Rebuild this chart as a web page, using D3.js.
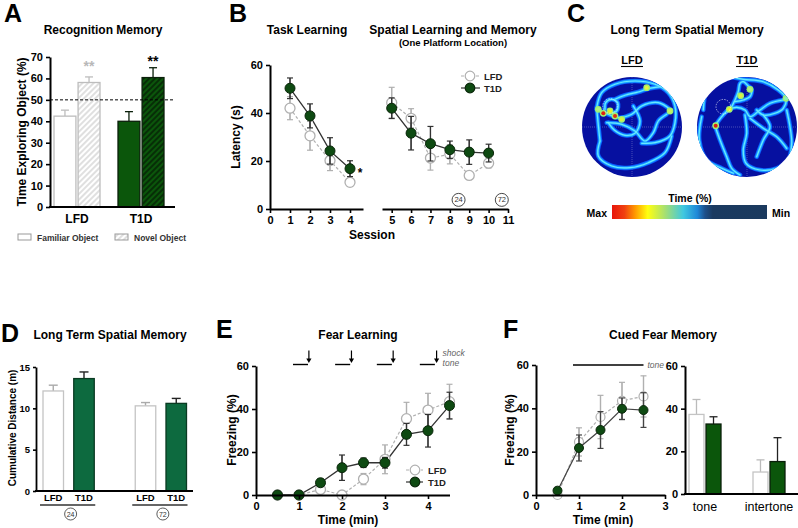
<!DOCTYPE html>
<html><head><meta charset="utf-8">
<script src="https://cdn.jsdelivr.net/npm/d3@7"></script>
<style>
body{margin:0;background:#fff;}
svg{display:block;font-family:"Liberation Sans",Arial,sans-serif;}
</style></head><body>
<svg id="c" width="798" height="528"></svg>
<script>
// ---------------- DATA ----------------
// Panel A: Recognition memory
const aGroups = ["LFD", "T1D"];
const aObjects = ["Familiar Object", "Novel Object"];
const aMeans = [[42.4, 58.1], [40.0, 60.4]];
const aErrs = [[2.8, 2.6], [4.5, 4.6]];
const aTicks = [0, 10, 20, 30, 40, 50, 60, 70];
const aChance = 50;
const aStarVals = [67, 69.5];

// Panel B: Water maze latency
const bSessions = [1, 2, 3, 4, 5, 6, 7, 8, 9, 10];
const bLFD = [42, 30.5, 20.2, 11.1, 44.3, 37.8, 21.2, 22.8, 14, 19.1];
const bLFDerr = [4.8, 6, 4.2, 1.6, 6.4, 4, 5, 4, 1.7, 2];
const bT1D = [50.3, 38.8, 24.2, 16.8, 42, 31.6, 27.2, 24.7, 23.7, 23.3];
const bT1Derr = [4.3, 5, 5.5, 3.3, 4.3, 7, 7.2, 3.6, 5.1, 3.7];
const bTicksL = [0, 1, 2, 3, 4];
const bTicksR = [5, 6, 7, 8, 9, 10, 11];
const bYTicks = [0, 20, 40, 60];
const bProbes = [{label: "24", s: 8.45, v: 3.8}, {label: "72", s: 10.68, v: 3.8}];

// Panel C: heat-map trajectories (local coords, radius 50)
const cGroups = ["LFD", "T1D"];
const cLFDpaths = [
  [[-35.3,-19.3],[-30.3,-34.3],[-17,-42.7],[3,-46],[23,-42.7],[36.3,-34.3],[43,-21],[43,-4.3],[38,9],[23,15.7],[9.7,16.3]],
  [[-32,14],[-33.7,29],[-20.3,39],[-2,40.7],[16.3,35.7],[33,25.7],[39.7,9]],
  [[-35.3,-17.7],[-23.7,-12.7],[-13.7,-9.3],[-0.3,-12.7],[9.7,-21],[26.3,-24.3],[38,-17.7]],
  [[-17,-27.7],[-7,-31.7],[6.3,-35],[16.3,-38.3],[29.7,-40.3]],
  [[-25.3,-4.3],[-10.3,-2.7],[3,4],[13,14],[21.3,5.7],[26.3,-6],[34.7,-12.7]],
  [[1.3,-21],[8,-6],[3,6.3],[-7,8.3],[-17.7,3],[-23.7,-4.3]],
  [[-27,-17.7],[-26.3,-24.3],[-20.3,-27.7],[-14.3,-24.3],[-15.3,-16],[-22,-13.7]],
  [[-35.3,-19.3],[-34,-5],[-32,14]]
];
const cLFDhot = [[-28.7,-13.7,"#e02010"],[-17,-11,"#e03010"],[-22,-16,"#f0f020"],[-10.3,-7.7,"#d8f040"],[14.7,-39.3,"#e8f040"],[38,-16,"#c8f060"],[-33.7,-17.7,"#b0f080"]];
const cT1Dpaths = [
  [[-43.7,-17],[-40.3,-37],[-30.3,-47],[-17,-49.7],[-3.7,-47.7],[16.3,-45.3],[31.3,-37],[39,-28.7],[36.3,-18.7],[28,-13.7],[16.3,-12],[9.7,-17]],
  [[-17,-17],[-12,-27],[-8.7,-35.3],[-7,-43.7],[-3.7,-45.3],[1.3,-41],[4.7,-37.7],[3,-30.3],[-3.7,-27],[-12,-25.3]],
  [[-32,-1],[-25.3,-10.3],[-17.7,-17.7],[-10.3,-19.7],[-2,-17],[3,-10.3],[13,-17],[23,-23.7],[36.3,-27]],
  [[-32,-1],[-27,13],[-20.3,29.7],[-15.3,41.3],[-7,48]],
  [[-2,-12],[-0.3,6.3],[-3.7,23],[-1,36.3],[13,43],[29.7,41.3],[41.3,33],[44.7,16.3],[43,-0.3],[39.7,-17]],
  [[3,-8.7],[16.3,1.3],[29.7,9.7],[39.7,21.3]],
  [[-45.3,-10.3],[-47.7,13],[-40.3,33],[-25.3,41.3],[-13.7,46.3]],
  [[16.3,-12],[23,-0.3],[16.3,13],[9.7,29.7]]
];
const cT1Dhot = [[-31.3,-1.3,"#e02010"],[-17.7,-17.7,"#f0f020"],[-6.3,-31.3,"#e0f040"],[3,-37.7,"#b0f080"],[39,-28.7,"#90f0b0"]];
const cPlatform = [[-22,-21],[-23.7,-20.3]];
const cScaleStops = [
  [0, "#e8160c"], [0.08, "#f04010"], [0.15, "#ff9a00"], [0.23, "#ffff10"],
  [0.34, "#a8e070"], [0.46, "#40c8e0"], [0.55, "#1e88d8"], [0.6, "#1d4f8a"], [0.65, "#1a3a60"], [1, "#1b3a5e"]
];

// Panel D: cumulative distance
const dDelays = ["24", "72"];
const dGroups = ["LFD", "T1D"];
const dMeans = [[12.1, 13.6], [10.3, 10.6]];
const dErrs = [[0.7, 0.8], [0.4, 0.6]];
const dTicks = [0, 5, 10, 15];

// Panel E: fear learning
const eTimes = [0.5, 1, 1.5, 2, 2.5, 3, 3.5, 4, 4.5];
const eLFD = [0, 0, 2.6, 0, 7.4, 16.6, 35.5, 39.5, 43.4];
const eLFDerr = [0, 0, 1.3, 0, 2.6, 6.7, 7.6, 7.8, 8.1];
const eT1D = [0, 0, 5.7, 12.7, 15, 15, 28.2, 29.9, 41.6];
const eT1Derr = [0, 0, 1.8, 5.9, 2.2, 2.5, 5.1, 7.6, 6.2];
const eXTicks = [0, 1, 2, 3, 4];
const eYTicks = [0, 20, 40, 60];
const eToneStart = [0.86, 1.84, 2.81, 3.81];
const eToneEnd = [1.21, 2.19, 3.16, 4.16];
const eShock = [1.23, 2.22, 3.19, 4.2];

// Panel F: cued fear memory
const fTimes = [0.5, 1, 1.5, 2, 2.5];
const fLFD = [0, 24.5, 36, 43.5, 45.5];
const fLFDerr = [1, 6.5, 10, 8.5, 9.5];
const fT1D = [2, 21.7, 30, 39.8, 39.2];
const fT1Derr = [1.5, 6, 8.5, 5, 8];
const fXTicks = [0, 1, 2, 3];
const fYTicks = [0, 20, 40, 60];
const fTone = [0.86, 2.5];
const fPhases = ["tone", "intertone"];
const fBarGroups = ["LFD", "T1D"];
const fBarMeans = [[37.3, 32.8], [10.3, 15.2]];
const fBarErrs = [[7, 3.4], [5.7, 11.2]];

// ---------------- HELPERS ----------------
const FONT = '"Liberation Sans", Arial, sans-serif';
const GREEN = "#0b560b";
const DGREEN = "#0e4a12";
const TEAL = "#0d6a3f";
const LG = "#b0b0b0";
const fmt = d3.format("d");
const svg = d3.select("#c");
svg.append("rect").attr("width", 798).attr("height", 528).attr("fill", "#fff");

function txt(g, x, y, s, o = {}) {
  return g.append("text").attr("x", x).attr("y", y).text(s)
    .attr("font-family", FONT)
    .attr("font-size", o.size || 12)
    .attr("font-weight", o.weight || "bold")
    .attr("font-style", o.style || "normal")
    .attr("fill", o.fill || "#000")
    .attr("text-anchor", o.anchor || "middle")
    .attr("transform", o.rotate ? `rotate(-90,${x},${y})` : null);
}
function styleAxis(g, size = 11, w = 2) {
  g.attr("font-family", null).attr("font-size", null);
  g.select(".domain").attr("stroke", "#000").attr("stroke-width", w);
  g.selectAll(".tick line").attr("stroke", "#000").attr("stroke-width", 1.6);
  g.selectAll(".tick text").attr("font-family", FONT).attr("font-weight", "bold")
    .attr("font-size", size).attr("fill", "#000");
}
const defs = svg.append("defs");
function hatch(id, bg, fg, w) {
  const p = defs.append("pattern").attr("id", id).attr("patternUnits", "userSpaceOnUse")
    .attr("width", 4).attr("height", 4).attr("patternTransform", "rotate(45)");
  p.append("rect").attr("width", 4).attr("height", 4).attr("fill", bg);
  p.append("line").attr("x1", 1).attr("x2", 1).attr("y1", 0).attr("y2", 4)
    .attr("stroke", fg).attr("stroke-width", w);
}
hatch("hL", "#fff", "#cfcfcf", 1.3);
hatch("hD", GREEN, "#041804", 1.3);
function errBar(g, x, y0, y1, color, cap, w = 1.2) {
  g.append("line").attr("x1", x).attr("x2", x).attr("y1", y0).attr("y2", y1).attr("stroke", color).attr("stroke-width", w);
  g.append("line").attr("x1", x - cap).attr("x2", x + cap).attr("y1", y1).attr("y2", y1).attr("stroke", color).attr("stroke-width", w);
}

// ---------------- PANEL A ----------------
(function () {
  const g = svg.append("g");
  txt(g, 4, 22, "A", {size: 25, anchor: "start"});
  txt(g, 103, 34, "Recognition Memory", {size: 12});
  const y = d3.scaleLinear().domain([0, 70]).range([207, 57]);
  const x0 = d3.scaleBand().domain(aGroups).range([45, 173]);
  const x1 = d3.scaleBand().domain(aObjects).range([9, 55]).paddingInner(0.09);
  const fills = [["#fff", "url(#hL)"], [GREEN, "url(#hD)"]];
  const strokes = ["#bdbdbd", "#0a1f0a"];
  aGroups.forEach((gr, gi) => {
    aObjects.forEach((ob, oi) => {
      const bx = x0(gr) + x1(ob), bw = x1.bandwidth(), m = aMeans[gi][oi];
      errBar(g, bx + bw / 2, y(m), y(m + aErrs[gi][oi]), strokes[gi], 4, 1.3);
      g.append("rect").attr("x", bx).attr("y", y(m)).attr("width", bw).attr("height", y(0) - y(m))
        .attr("fill", fills[gi][oi]).attr("stroke", strokes[gi]).attr("stroke-width", 1.3);
    });
    txt(g, x0(gr) + x0.bandwidth() / 2, 223, gr, {size: 12});
    const sx = x0(gr) + x1("Novel Object") + x1.bandwidth() / 2;
    txt(g, sx, y(aStarVals[gi]) + 8, "**", {size: 14, fill: gi === 0 ? "#b8b8b8" : "#000"});
  });
  g.append("line").attr("x1", 50).attr("x2", x0.range()[1] + 2).attr("y1", y(aChance)).attr("y2", y(aChance))
    .attr("stroke", "#000").attr("stroke-width", 1).attr("stroke-dasharray", "3,2");
  const ax = g.append("g").attr("transform", "translate(50,0)")
    .call(d3.axisLeft(y).tickValues(aTicks).tickFormat(fmt).tickSize(4).tickSizeOuter(0));
  styleAxis(ax, 11);
  g.append("line").attr("x1", 49).attr("x2", x0.range()[1] + 2).attr("y1", y(0)).attr("y2", y(0))
    .attr("stroke", "#000").attr("stroke-width", 2);
  txt(g, 26, 132, "Time Exploring Object  (%)", {size: 12, rotate: true});
  // legend
  const lx = [18, 115];
  aObjects.forEach((ob, oi) => {
    g.append("rect").attr("x", lx[oi]).attr("y", 234).attr("width", 13).attr("height", 6)
      .attr("fill", oi ? "url(#hL)" : "#fff").attr("stroke", "#999").attr("stroke-width", 1);
    txt(g, lx[oi] + 19, 240.5, ob, {size: 8.5, anchor: "start", fill: "#333"});
  });
})();

// ---------------- PANEL B ----------------
(function () {
  const g = svg.append("g");
  txt(g, 229, 22, "B", {size: 25, anchor: "start"});
  txt(g, 307, 34, "Task Learning", {size: 12});
  txt(g, 453, 34, "Spatial Learning and Memory", {size: 12});
  txt(g, 453, 46, "(One Platform Location)", {size: 9.5});
  const y = d3.scaleLinear().domain([0, 60]).range([209, 65]);
  const xL = d3.scaleLinear().domain([0, 4.65]).range([270, 363]);
  const xR = d3.scaleLinear().domain([4.5, 11]).range([382, 508]);
  const x = s => (s < 4.55 ? xL(s) : xR(s));
  const idx1 = [0, 1, 2, 3], idx2 = [4, 5, 6, 7, 8, 9];
  const line = (vals) => d3.line().x(i => x(bSessions[i])).y(i => y(vals[i]));
  [idx1, idx2].forEach(ix => {
    g.append("path").attr("d", line(bLFD)(ix)).attr("fill", "none").attr("stroke", LG)
      .attr("stroke-width", 1.2).attr("stroke-dasharray", "3,2");
    g.append("path").attr("d", line(bT1D)(ix)).attr("fill", "none").attr("stroke", "#333").attr("stroke-width", 1.3);
  });
  bSessions.forEach((s, i) => {
    errBar(g, x(s), y(bLFD[i] - bLFDerr[i]), y(bLFD[i] + bLFDerr[i]), LG, 3);
    errBar(g, x(s), y(bLFD[i] + bLFDerr[i]), y(bLFD[i] - bLFDerr[i]), LG, 3);
  });
  bSessions.forEach((s, i) => {
    g.append("circle").attr("cx", x(s)).attr("cy", y(bLFD[i])).attr("r", 5).attr("fill", "#fff").attr("stroke", LG).attr("stroke-width", 1.3);
  });
  bSessions.forEach((s, i) => {
    errBar(g, x(s), y(bT1D[i] - bT1Derr[i]), y(bT1D[i] + bT1Derr[i]), "#333", 3);
    errBar(g, x(s), y(bT1D[i] + bT1Derr[i]), y(bT1D[i] - bT1Derr[i]), "#333", 3);
    g.append("circle").attr("cx", x(s)).attr("cy", y(bT1D[i])).attr("r", 5).attr("fill", DGREEN).attr("stroke", "#0a260a").attr("stroke-width", 1);
  });
  txt(g, x(4) + 10, y(bT1D[3]) + 8, "*", {size: 12});
  bProbes.forEach(p => {
    g.append("circle").attr("cx", xR(p.s)).attr("cy", y(p.v)).attr("r", 6.5).attr("fill", "#fff").attr("stroke", "#333").attr("stroke-width", 0.9);
    txt(g, xR(p.s), y(p.v) + 2.6, p.label, {size: 7.5, weight: "normal", fill: "#333"});
  });
  const ay = g.append("g").attr("transform", "translate(270,0)")
    .call(d3.axisLeft(y).tickValues(bYTicks).tickFormat(fmt).tickSize(4).tickSizeOuter(0));
  styleAxis(ay, 11);
  const axL = g.append("g").attr("transform", "translate(0,209)")
    .call(d3.axisBottom(xL).tickValues(bTicksL).tickFormat(fmt).tickSize(4).tickSizeOuter(0));
  styleAxis(axL, 11);
  const axR = g.append("g").attr("transform", "translate(0,209)")
    .call(d3.axisBottom(xR).tickValues(bTicksR).tickFormat(fmt).tickSize(4).tickSizeOuter(0));
  styleAxis(axR, 11);
  txt(g, 372, 239, "Session", {size: 12});
  txt(g, 240, 137, "Latency (s)", {size: 12, rotate: true});
  // legend
  const ly = [76, 88], names = ["LFD", "T1D"];
  ly.forEach((yy, i) => {
    g.append("line").attr("x1", 461).attr("x2", 480).attr("y1", yy).attr("y2", yy)
      .attr("stroke", i ? "#333" : LG).attr("stroke-width", 1.2).attr("stroke-dasharray", i ? null : "3,2");
    g.append("circle").attr("cx", 470).attr("cy", yy).attr("r", 4.8)
      .attr("fill", i ? DGREEN : "#fff").attr("stroke", i ? "#0a260a" : LG).attr("stroke-width", 1.2);
    txt(g, 484, yy + 3.5, names[i], {size: 9.5, anchor: "start", fill: "#222"});
  });
})();

// ---------------- PANEL C ----------------
(function () {
  const g = svg.append("g");
  txt(g, 567, 22, "C", {size: 25, anchor: "start"});
  txt(g, 687, 34, "Long Term Spatial Memory", {size: 12});
  const centers = d3.scalePoint().domain(cGroups).range([632, 747]);
  const cy = 127, R = 50;
  const sc = d3.scaleLinear().domain([-50, 50]).range([-R, R]);
  const line = d3.line().x(d => sc(d[0])).y(d => sc(d[1])).curve(d3.curveCatmullRom.alpha(0.5));
  [[cLFDpaths, cLFDhot], [cT1Dpaths, cT1Dhot]].forEach(([paths, hots], k) => {
    const name = cGroups[k];
    const cx = centers(name);
    defs.append("clipPath").attr("id", "clip" + k).append("circle").attr("cx", 0).attr("cy", 0).attr("r", R);
    const gg = g.append("g").attr("transform", `translate(${cx},${cy})`);
    gg.append("circle").attr("r", R).attr("fill", "#0610a0");
    const inner = gg.append("g").attr("clip-path", `url(#clip${k})`);
    inner.append("line").attr("x1", -R).attr("x2", R).attr("y1", 0).attr("y2", 0).attr("stroke", "#fff").attr("stroke-opacity", 0.45).attr("stroke-width", 0.6).attr("stroke-dasharray", "1,1");
    inner.append("line").attr("y1", -R).attr("y2", R).attr("x1", 0).attr("x2", 0).attr("stroke", "#fff").attr("stroke-opacity", 0.45).attr("stroke-width", 0.6).attr("stroke-dasharray", "1,1");
    const pg = inner.append("g");
    paths.forEach(p => pg.append("path").attr("d", line(p)).attr("fill", "none").attr("stroke", "#0a5cff").attr("stroke-width", 4.6).attr("stroke-linecap", "round").attr("stroke-linejoin", "round"));
    paths.forEach(p => pg.append("path").attr("d", line(p)).attr("fill", "none").attr("stroke", "#1aa8ff").attr("stroke-width", 2.8).attr("stroke-linecap", "round").attr("stroke-linejoin", "round"));
    paths.forEach(p => pg.append("path").attr("d", line(p)).attr("fill", "none").attr("stroke", "#6ae8ff").attr("stroke-width", 1.2).attr("stroke-linecap", "round").attr("stroke-linejoin", "round"));
    hots.forEach(h => {
      pg.append("circle").attr("cx", sc(h[0])).attr("cy", sc(h[1])).attr("r", 3.4).attr("fill", "#a0f070");
      pg.append("circle").attr("cx", sc(h[0])).attr("cy", sc(h[1])).attr("r", 2).attr("fill", h[2]);
    });
    const pl = cPlatform[k];
    inner.append("circle").attr("cx", sc(pl[0])).attr("cy", sc(pl[1])).attr("r", 7.3).attr("fill", "none")
      .attr("stroke", "#fff").attr("stroke-width", 0.7).attr("stroke-dasharray", "1.5,1.2").attr("stroke-opacity", 0.85);
    txt(g, cx, 64, name, {size: 11});
    g.append("line").attr("x1", cx - 11).attr("x2", cx + 11).attr("y1", 66.5).attr("y2", 66.5).attr("stroke", "#000").attr("stroke-width", 1.1);
  });
  // colour scale
  const grad = defs.append("linearGradient").attr("id", "cbar");
  cScaleStops.forEach(s => grad.append("stop").attr("offset", s[0]).attr("stop-color", s[1]));
  const bx = d3.scaleLinear().domain([0, 1]).range([612, 767]);
  g.append("rect").attr("x", bx(0)).attr("y", 205).attr("width", bx(1) - bx(0)).attr("height", 14).attr("fill", "url(#cbar)");
  txt(g, 690, 202, "Time (%)", {size: 10.5});
  txt(g, 607, 216.5, "Max", {size: 10.5, anchor: "end"});
  txt(g, 772, 216.5, "Min", {size: 10.5, anchor: "start"});
})();

// ---------------- PANEL D ----------------
(function () {
  const g = svg.append("g");
  txt(g, 1, 342, "D", {size: 25, anchor: "start"});
  txt(g, 110, 339, "Long Term Spatial Memory", {size: 12});
  const y = d3.scaleLinear().domain([0, 15]).range([491, 367]);
  const slots = ["LFD-24", "T1D-24", "gap", "LFD-72", "T1D-72"];
  const x = d3.scaleBand().domain(slots).range([43, 186.5]).paddingInner(0.333).paddingOuter(0);
  dDelays.forEach((dl, di) => {
    dGroups.forEach((gr, gi) => {
      const key = gr + "-" + dl, m = dMeans[di][gi], bx = x(key), bw = x.bandwidth();
      const col = gi ? "#0a3a22" : "#c4c4c4";
      errBar(g, bx + bw / 2, y(m), y(m + dErrs[di][gi]), gi ? "#222" : "#aaa", 4.5, 1.4);
      g.append("rect").attr("x", bx).attr("y", y(m)).attr("width", bw).attr("height", y(0) - y(m))
        .attr("fill", gi ? TEAL : "#fff").attr("stroke", col).attr("stroke-width", 1.3);
      txt(g, bx + bw / 2, 501, gr, {size: 9.5});
    });
    const a = x("LFD-" + dl) - 3, b = x("T1D-" + dl) + x.bandwidth() + 1;
    g.append("line").attr("x1", a).attr("x2", b).attr("y1", 505).attr("y2", 505).attr("stroke", "#333").attr("stroke-width", 1.3);
    const cx = (a + b) / 2 + 3;
    g.append("circle").attr("cx", cx).attr("cy", 514).attr("r", 6).attr("fill", "#fff").attr("stroke", "#333").attr("stroke-width", 0.8);
    txt(g, cx, 516.5, dl, {size: 7, weight: "normal", fill: "#333"});
  });
  const ay = g.append("g").attr("transform", "translate(36,0)")
    .call(d3.axisLeft(y).tickValues(dTicks).tickFormat(fmt).tickSize(3).tickSizeOuter(0));
  styleAxis(ay, 9.5, 1.8);
  g.append("line").attr("x1", 35).attr("x2", 193).attr("y1", y(0)).attr("y2", y(0)).attr("stroke", "#000").attr("stroke-width", 1.8);
  txt(g, 16, 428, "Cumulative Distance (m)", {size: 10, rotate: true});
})();

// ---------------- PANEL E ----------------
(function () {
  const g = svg.append("g");
  txt(g, 216, 338, "E", {size: 25, anchor: "start"});
  txt(g, 358, 339, "Fear Learning", {size: 12});
  const x = d3.scaleLinear().domain([0, 4.5]).range([256, 449.5]);
  const y = d3.scaleLinear().domain([0, 60]).range([495, 366]);
  const line = vals => d3.line().x((d, i) => x(eTimes[i])).y(d => y(d))(vals);
  g.append("path").attr("d", line(eLFD)).attr("fill", "none").attr("stroke", LG).attr("stroke-width", 1.2).attr("stroke-dasharray", "3,2");
  g.append("path").attr("d", line(eT1D)).attr("fill", "none").attr("stroke", "#333").attr("stroke-width", 1.3);
  eTimes.forEach((t, i) => {
    if (eLFDerr[i] > 0) {
      errBar(g, x(t), y(eLFD[i] - eLFDerr[i]), y(eLFD[i] + eLFDerr[i]), LG, 3);
      errBar(g, x(t), y(eLFD[i] + eLFDerr[i]), y(eLFD[i] - eLFDerr[i]), LG, 3);
    }
    g.append("circle").attr("cx", x(t)).attr("cy", y(eLFD[i])).attr("r", 5).attr("fill", "#fff").attr("stroke", LG).attr("stroke-width", 1.3);
  });
  eTimes.forEach((t, i) => {
    if (eT1Derr[i] > 0) {
      errBar(g, x(t), y(eT1D[i] - eT1Derr[i]), y(eT1D[i] + eT1Derr[i]), "#333", 3);
      errBar(g, x(t), y(eT1D[i] + eT1Derr[i]), y(eT1D[i] - eT1Derr[i]), "#333", 3);
    }
    g.append("circle").attr("cx", x(t)).attr("cy", y(eT1D[i])).attr("r", 5).attr("fill", DGREEN).attr("stroke", "#0a260a").attr("stroke-width", 1);
  });
  const ax = g.append("g").attr("transform", `translate(0,${y(0)})`)
    .call(d3.axisBottom(x).tickValues(eXTicks).tickFormat(fmt).tickSize(4).tickSizeOuter(0));
  styleAxis(ax, 11);
  const ay = g.append("g").attr("transform", `translate(${x(0)},0)`)
    .call(d3.axisLeft(y).tickValues(eYTicks).tickFormat(fmt).tickSize(4).tickSizeOuter(0));
  styleAxis(ay, 11);
  txt(g, 348, 524, "Time (min)", {size: 12});
  txt(g, 236, 430, "Freezing (%)", {size: 12, rotate: true});
  // tone / shock markers
  const ty = y(60) - 1.5;
  eToneStart.forEach((s, i) => {
    g.append("line").attr("x1", x(s)).attr("x2", x(eToneEnd[i])).attr("y1", ty).attr("y2", ty).attr("stroke", "#000").attr("stroke-width", 1.4);
    const ax0 = x(eShock[i]);
    g.append("line").attr("x1", ax0).attr("x2", ax0).attr("y1", ty - 14).attr("y2", ty - 5).attr("stroke", "#000").attr("stroke-width", 1.2);
    g.append("path").attr("d", `M${ax0 - 2.6},${ty - 6}L${ax0 + 2.6},${ty - 6}L${ax0},${ty - 1.5}Z`).attr("fill", "#000");
  });
  txt(g, x(eShock[3]) + 6, ty - 9, "shock", {size: 8.5, weight: "normal", style: "italic", fill: "#666", anchor: "start"});
  txt(g, x(eShock[3]) + 6, ty + 1, "tone", {size: 8.5, weight: "normal", style: "italic", fill: "#666", anchor: "start"});
  // legend
  const ly = [470, 482], names = ["LFD", "T1D"];
  ly.forEach((yy, i) => {
    g.append("line").attr("x1", 406).attr("x2", 423).attr("y1", yy).attr("y2", yy)
      .attr("stroke", i ? "#333" : LG).attr("stroke-width", 1.2).attr("stroke-dasharray", i ? null : "3,2");
    g.append("circle").attr("cx", 415).attr("cy", yy).attr("r", 4.8)
      .attr("fill", i ? DGREEN : "#fff").attr("stroke", i ? "#0a260a" : LG).attr("stroke-width", 1.2);
    txt(g, 428, yy + 3.5, names[i], {size: 9.5, anchor: "start", fill: "#222"});
  });
})();

// ---------------- PANEL F ----------------
(function () {
  const g = svg.append("g");
  txt(g, 503, 338, "F", {size: 25, anchor: "start"});
  txt(g, 663, 339, "Cued Fear Memory", {size: 12});
  const x = d3.scaleLinear().domain([0, 3]).range([536, 665]);
  const y = d3.scaleLinear().domain([0, 60]).range([495, 365]);
  const line = vals => d3.line().x((d, i) => x(fTimes[i])).y(d => y(d))(vals);
  g.append("path").attr("d", line(fLFD)).attr("fill", "none").attr("stroke", LG).attr("stroke-width", 1.2).attr("stroke-dasharray", "3,2");
  fTimes.forEach((t, i) => {
    errBar(g, x(t), y(fLFD[i] - fLFDerr[i]), y(fLFD[i] + fLFDerr[i]), LG, 3);
    errBar(g, x(t), y(fLFD[i] + fLFDerr[i]), y(Math.max(0, fLFD[i] - fLFDerr[i])), LG, 3);
    g.append("circle").attr("cx", x(t)).attr("cy", y(fLFD[i])).attr("r", 4.5).attr("fill", "#fff").attr("stroke", LG).attr("stroke-width", 1.2);
  });
  g.append("path").attr("d", line(fT1D)).attr("fill", "none").attr("stroke", "#444").attr("stroke-width", 1.2);
  fTimes.forEach((t, i) => {
    errBar(g, x(t), y(fT1D[i] - fT1Derr[i]), y(fT1D[i] + fT1Derr[i]), "#444", 3);
    errBar(g, x(t), y(fT1D[i] + fT1Derr[i]), y(fT1D[i] - fT1Derr[i]), "#444", 3);
    g.append("circle").attr("cx", x(t)).attr("cy", y(fT1D[i])).attr("r", 4.5).attr("fill", DGREEN).attr("stroke", "#0a260a").attr("stroke-width", 1);
  });
  const ax = g.append("g").attr("transform", `translate(0,${y(0)})`)
    .call(d3.axisBottom(x).tickValues(fXTicks).tickFormat(fmt).tickSize(4).tickSizeOuter(0));
  styleAxis(ax, 11);
  const ay = g.append("g").attr("transform", `translate(${x(0)},0)`)
    .call(d3.axisLeft(y).tickValues(fYTicks).tickFormat(fmt).tickSize(4).tickSizeOuter(0));
  styleAxis(ay, 11);
  txt(g, 603, 524, "Time (min)", {size: 12});
  txt(g, 514, 430, "Freezing (%)", {size: 12, rotate: true});
  g.append("line").attr("x1", x(fTone[0])).attr("x2", x(fTone[1])).attr("y1", y(60)).attr("y2", y(60)).attr("stroke", "#000").attr("stroke-width", 1.4);
  txt(g, x(fTone[1]) + 4, y(60) + 3, "tone", {size: 8.5, weight: "normal", style: "italic", fill: "#666", anchor: "start"});
  // bars
  const yb = d3.scaleLinear().domain([0, 60]).range([494, 366]);
  const x0 = d3.scaleBand().domain(fPhases).range([685, 813]);
  const x1 = d3.scaleBand().domain(fBarGroups).range([4, 36]).paddingInner(0.12);
  fPhases.forEach((ph, pi) => {
    fBarGroups.forEach((gr, gi) => {
      const bx = x0(ph) + x1(gr), bw = x1.bandwidth(), m = fBarMeans[pi][gi];
      errBar(g, bx + bw / 2, yb(m), yb(m + fBarErrs[pi][gi]), gi ? "#222" : "#bbb", 4, 1.3);
      g.append("rect").attr("x", bx).attr("y", yb(m)).attr("width", bw).attr("height", yb(0) - yb(m))
        .attr("fill", gi ? GREEN : "#fff").attr("stroke", gi ? "#0a1f0a" : "#c4c4c4").attr("stroke-width", 1.3);
    });
    txt(g, x0(ph) + 20, 511, ph, {size: 12.5, weight: "normal"});
  });
  const ayb = g.append("g").attr("transform", "translate(685,0)")
    .call(d3.axisLeft(yb).tickValues(fYTicks).tickFormat(fmt).tickSize(4).tickSizeOuter(0));
  styleAxis(ayb, 11);
  g.append("line").attr("x1", 684).attr("x2", 798).attr("y1", yb(0)).attr("y2", yb(0)).attr("stroke", "#000").attr("stroke-width", 2);
})();
</script></body></html>
